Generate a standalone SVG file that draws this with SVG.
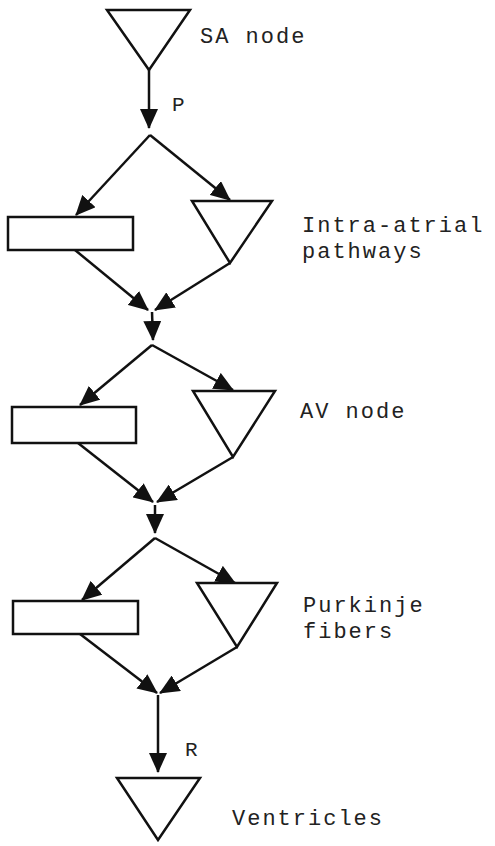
<svg xmlns="http://www.w3.org/2000/svg" width="495" height="846" viewBox="0 0 495 846">
<style>
.shape{fill:#fff;stroke:#111;stroke-width:2.5;stroke-linejoin:miter}
.edge{fill:none;stroke:#111;stroke-width:2.5}
.lbl{font-family:"Liberation Mono","DejaVu Sans Mono",monospace;font-size:22px;fill:#222;letter-spacing:2px}
.sm{font-family:"Liberation Mono","DejaVu Sans Mono",monospace;font-size:21px;fill:#222}
</style>
<defs>
<marker id="ah" viewBox="0 0 20 18" refX="19" refY="9" markerWidth="20" markerHeight="18" markerUnits="userSpaceOnUse" orient="auto">
<path d="M0,0 L20,9 L0,18 z" fill="#111"/>
</marker>
</defs>
<rect width="495" height="846" fill="#fff"/>
<g id="connectors">
<line class="edge" x1="149" y1="70" x2="149" y2="128" marker-end="url(#ah)"/>
<line class="edge" x1="150" y1="135" x2="76" y2="215" marker-end="url(#ah)"/>
<line class="edge" x1="150" y1="135" x2="230" y2="200" marker-end="url(#ah)"/>
<line class="edge" x1="75" y1="250" x2="148" y2="310" marker-end="url(#ah)"/>
<line class="edge" x1="230" y1="263" x2="155" y2="310" marker-end="url(#ah)"/>
<line class="edge" x1="152" y1="312" x2="153" y2="340" marker-end="url(#ah)"/>
<line class="edge" x1="152" y1="345" x2="80" y2="405" marker-end="url(#ah)"/>
<line class="edge" x1="152" y1="345" x2="233" y2="390" marker-end="url(#ah)"/>
<line class="edge" x1="78" y1="443" x2="153" y2="502" marker-end="url(#ah)"/>
<line class="edge" x1="233" y1="457" x2="157" y2="502" marker-end="url(#ah)"/>
<line class="edge" x1="155" y1="505" x2="155" y2="533" marker-end="url(#ah)"/>
<line class="edge" x1="155" y1="538" x2="82" y2="600" marker-end="url(#ah)"/>
<line class="edge" x1="155" y1="538" x2="235" y2="583" marker-end="url(#ah)"/>
<line class="edge" x1="80" y1="634" x2="157" y2="693" marker-end="url(#ah)"/>
<line class="edge" x1="237" y1="647" x2="160" y2="693" marker-end="url(#ah)"/>
<line class="edge" x1="158" y1="695" x2="158" y2="772" marker-end="url(#ah)"/>
<text class="sm" x="172" y="111">P</text>
<text class="sm" x="185" y="756">R</text>
</g>
<g id="sa-node">
<polygon class="shape" points="107,10 190,10 149,70"/>
<text class="lbl" x="200" y="43">SA node</text>
</g>
<g id="intra-atrial">
<rect class="shape" x="8" y="217" width="125" height="33"/>
<polygon class="shape" points="192,201 272,201 230,263"/>
<text class="lbl" x="302" y="232">Intra-atrial</text>
<text class="lbl" x="302" y="258">pathways</text>
</g>
<g id="av-node">
<rect class="shape" x="12" y="407" width="124" height="36"/>
<polygon class="shape" points="193,391 275,391 233,457"/>
<text class="lbl" x="300" y="418">AV node</text>
</g>
<g id="purkinje">
<rect class="shape" x="13" y="601" width="125" height="33"/>
<polygon class="shape" points="197,583 277,583 237,647"/>
<text class="lbl" x="303" y="612">Purkinje</text>
<text class="lbl" x="303" y="638">fibers</text>
</g>
<g id="ventricles">
<polygon class="shape" points="117,778 200,778 158,840"/>
<text class="lbl" x="232" y="825">Ventricles</text>
</g>
</svg>
